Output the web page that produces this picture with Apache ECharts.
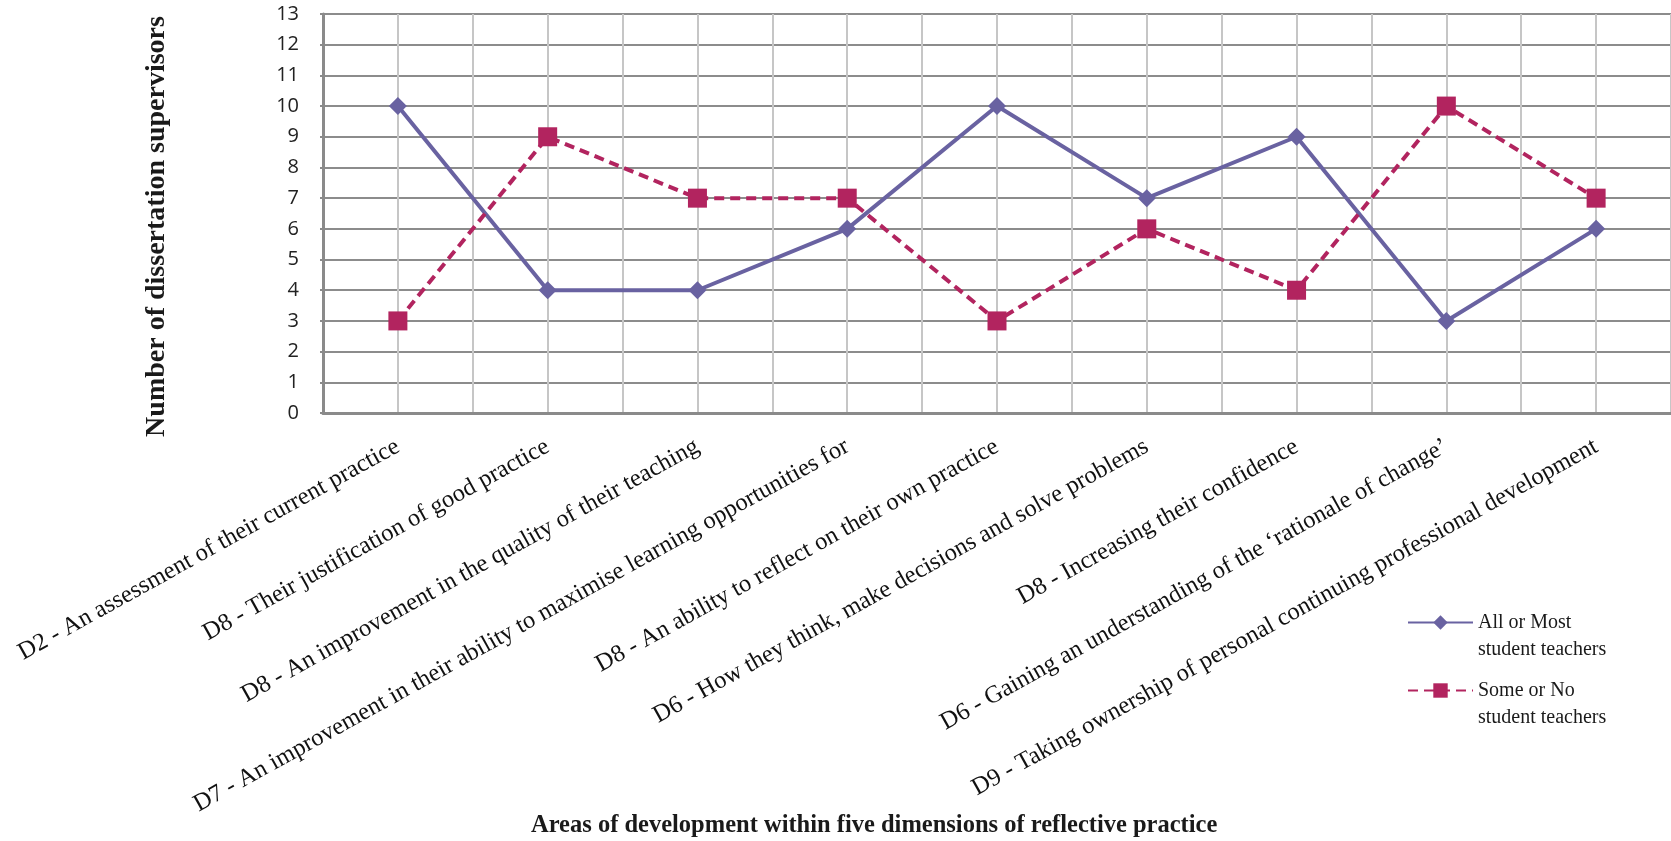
<!DOCTYPE html>
<html>
<head>
<meta charset="utf-8">
<script src="https://cdn.jsdelivr.net/npm/echarts@6/dist/echarts.min.js"></script>
<style>
  html, body { margin: 0; padding: 0; background: #fff; }
  #chart { width: 1671px; height: 841px; }
</style>
</head>
<body>
<div id="chart"></div>
<script>
// Areas of development (x categories)
const categories = [
  "D2 - An assessment of their current practice",
  "D8 - Their justification of good practice",
  "D8 - An improvement in the quality of their teaching",
  "D7 - An improvement in their ability to maximise learning opportunities for",
  "D8 - An ability to reflect on their own practice",
  "D6 - How they think, make decisions and solve problems",
  "D8 - Increasing their confidence",
  "D6 - Gaining an understanding of the \u2018rationale of change\u2019",
  "D9 - Taking ownership of personal continuing professional development"
];

// Number of dissertation supervisors per response group
const allOrMost = [10, 4, 4, 6, 10, 7, 9, 3, 6];
const someOrNo  = [3, 9, 7, 7, 3, 6, 4, 10, 7];

const seriesNames = ["All or Most\nstudent teachers", "Some or No\nstudent teachers"];
const yTicks = { min: 0, max: 13, interval: 1 };

const PURPLE = "#6962a1";
const MAGENTA = "#b2245f";
const serif = "'Liberation Serif', 'Times New Roman', serif";

const chart = echarts.init(document.getElementById("chart"));

chart.setOption({
  backgroundColor: "#ffffff",
  animation: false,
  grid: { left: 323, top: 14, width: 1350, height: 399, containLabel: false },
  title: {
    text: "Areas of development within five dimensions of reflective practice",
    left: 531,
    top: 813,
    padding: 0,
    textStyle: { fontFamily: serif, fontWeight: "bold", fontSize: 24.5, color: "#1a1a1a" }
  },
  legend: {
    orient: "vertical",
    left: 1402,
    top: 577,
    itemWidth: 65,
    itemHeight: 18,
    itemGap: -13,
    data: seriesNames,
    // a leading blank line puts the marker level with the first text line
    formatter: function (name) { return "\n" + name; },
    textStyle: {
      fontFamily: serif, fontSize: 20, color: "#1a1a1a", lineHeight: 27
    }
  },
  xAxis: [
    {
      type: "category",
      data: categories,
      boundaryGap: true,
      axisLine: { show: true, lineStyle: { color: "#8a8a8a", width: 3 } },
      axisTick: { show: false },
      splitLine: { show: false },
      axisLabel: {
        interval: 0,
        rotate: 29,
        margin: 32,
        fontFamily: serif,
        fontSize: 24.5,
        color: "#111"
      }
    },
    {
      // half-category vertical grid lines
      type: "value",
      position: "bottom",
      min: 0,
      max: 9,
      interval: 0.5,
      axisLine: { show: false },
      axisTick: { show: false },
      axisLabel: { show: false },
      splitLine: { show: true, lineStyle: { color: "#c6c6c6", width: 2 } }
    }
  ],
  yAxis: {
    type: "value",
    min: yTicks.min,
    max: yTicks.max,
    interval: yTicks.interval,
    name: "Number of dissertation supervisors",
    nameLocation: "middle",
    nameRotate: 90,
    nameGap: 152,
    nameTextStyle: {
      fontFamily: serif, fontWeight: "bold", fontSize: 28, color: "#1a1a1a",
      padding: [0, 26, 0, 0]
    },
    axisLine: { show: true, lineStyle: { color: "#8a8a8a", width: 3 } },
    axisTick: { show: true, length: 3, lineStyle: { color: "#8a8a8a", width: 2 } },
    axisLabel: { margin: 24, fontFamily: "'Open Sans', Lato, sans-serif", fontSize: 20, color: "#222" },
    splitLine: { show: true, lineStyle: { color: "#8c8c8c", width: 2 } }
  },
  series: [
    {
      name: seriesNames[0],
      type: "line",
      xAxisIndex: 0,
      data: allOrMost,
      symbol: "diamond",
      symbolSize: 18,
      lineStyle: { color: PURPLE, width: 4 },
      itemStyle: { color: PURPLE },
      z: 3
    },
    {
      name: seriesNames[1],
      type: "line",
      xAxisIndex: 0,
      data: someOrNo,
      symbol: "rect",
      symbolSize: 19,
      lineStyle: { color: MAGENTA, width: 4, type: [10, 6] },
      itemStyle: { color: MAGENTA },
      z: 4
    }
  ]
});
</script>
</body>
</html>
